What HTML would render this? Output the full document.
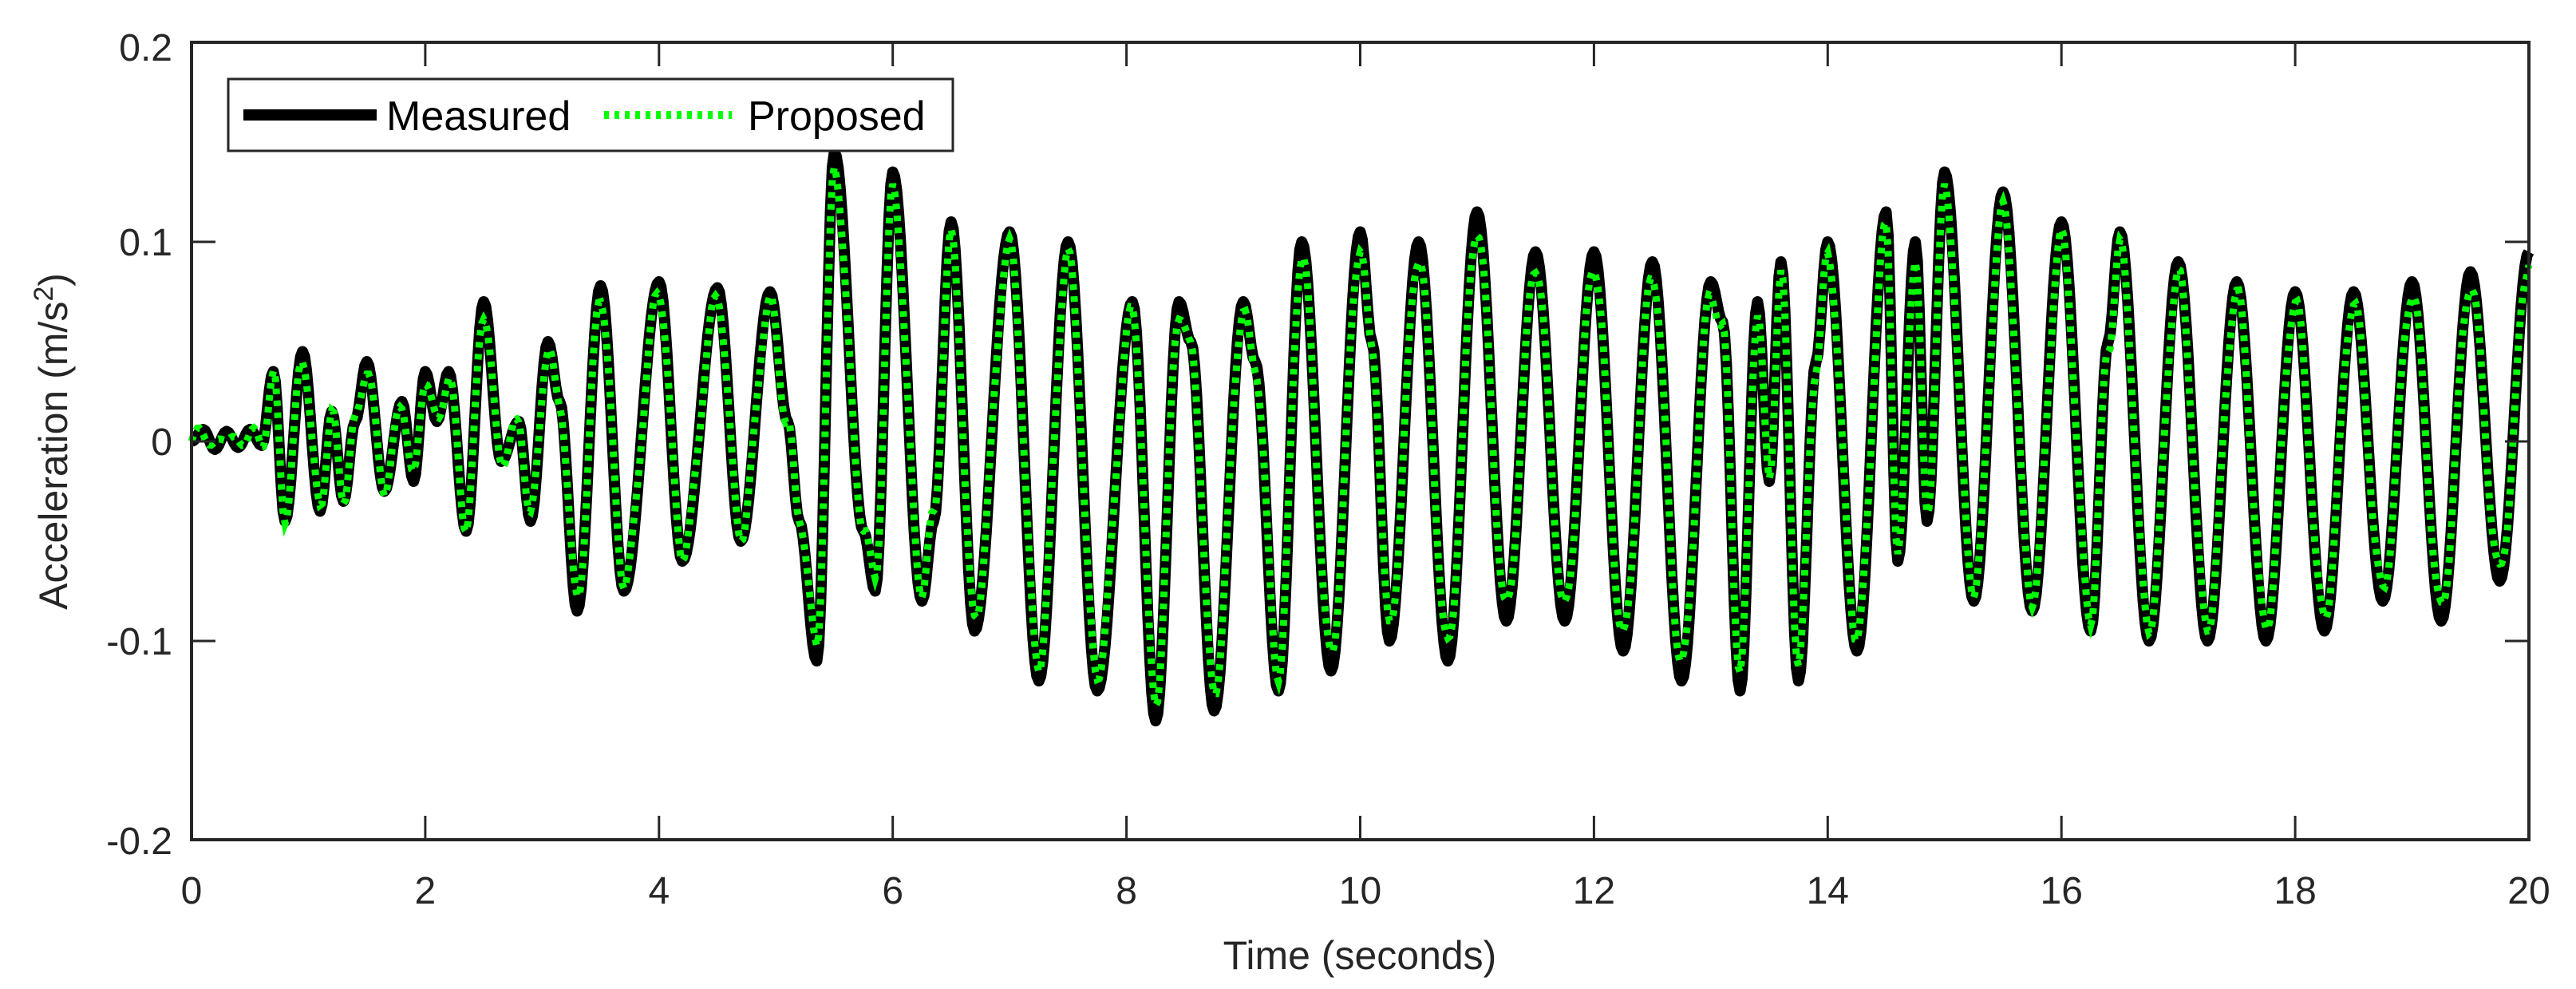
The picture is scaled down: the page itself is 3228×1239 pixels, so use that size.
<!DOCTYPE html>
<html><head><meta charset="utf-8"><style>
html,body{margin:0;padding:0;background:#fff;}
svg{display:block;}
text{font-family:"Liberation Sans",sans-serif;fill:#262626;}
</style></head><body>
<svg id="s" width="3228" height="1239" viewBox="0 0 3228 1239" xmlns="http://www.w3.org/2000/svg">
<rect width="3228" height="1239" fill="#fff"/>
<g id="data"></g>
<rect x="240" y="53" width="2929" height="999" fill="none" stroke="#262626" stroke-width="4"/>
<g stroke="#262626" stroke-width="3">
<line x1="240" y1="303" x2="270" y2="303"/><line x1="240" y1="553" x2="270" y2="553"/><line x1="240" y1="803" x2="270" y2="803"/>
<line x1="3169" y1="303" x2="3139" y2="303"/><line x1="3169" y1="553" x2="3139" y2="553"/><line x1="3169" y1="803" x2="3139" y2="803"/>
</g>
<g id="xt" stroke="#262626" stroke-width="3"></g>
<g font-size="48" text-anchor="end">
<text x="216" y="76">0.2</text><text x="216" y="320">0.1</text><text x="216" y="570">0</text><text x="216" y="820">-0.1</text><text x="216" y="1070">-0.2</text>
</g>
<g id="xl" font-size="48" text-anchor="middle"></g>
<text x="1704" y="1214" font-size="50" text-anchor="middle">Time (seconds)</text>
<text transform="translate(84,553) rotate(-90)" font-size="50" text-anchor="middle">Acceleration (m/s<tspan dy="-18" font-size="34">2</tspan><tspan dy="18">)</tspan></text>
<rect x="286" y="99" width="908" height="90" fill="#fff" stroke="#262626" stroke-width="3"/>
<line x1="305" y1="144" x2="472" y2="144" stroke="#000" stroke-width="14"/>
<text x="484" y="163" font-size="52" style="fill:#000">Measured</text>
<line x1="757" y1="144" x2="917" y2="144" stroke="#00ff00" stroke-width="10" stroke-dasharray="6,7"/>
<text x="937" y="163" font-size="52" style="fill:#000">Proposed</text>
</svg>
<script>
var X=function(t){return 240+t*146.45;},Y=function(v){return 553-v*2500;};
var xt=document.getElementById('xt'),xl=document.getElementById('xl'),h='',l='';
for(var i=0;i<=20;i+=2){var x=X(i);if(i>0&&i<20){h+='<line x1="'+x+'" y1="1052" x2="'+x+'" y2="1022"/><line x1="'+x+'" y1="53" x2="'+x+'" y2="83"/>';}l+='<text x="'+x+'" y="1132">'+i+'</text>';}
xt.innerHTML=h;xl.innerHTML=l;
var E=[[0,0],[0.1,0.006],[0.2,-0.004],[0.3,0.005],[0.4,-0.003],[0.5,0.006],[0.6,-0.002],[0.7,0.035],[0.8,-0.04],[0.95,0.045],[1.1,-0.035],[1.2,0.015],[1.3,-0.03],[1.4,0.01],[1.5,0.04],[1.65,-0.025],[1.8,0.02],[1.9,-0.02],[2.0,0.035],[2.1,0.01],[2.2,0.035],[2.35,-0.045],[2.5,0.07],[2.65,-0.01],[2.8,0.01],[2.9,-0.04],[3.05,0.05],[3.15,0.02],[3.3,-0.085],[3.5,0.078],[3.7,-0.075],[4.0,0.08],[4.2,-0.06],[4.5,0.077],[4.7,-0.05],[4.95,0.075],[5.1,0.01],[5.2,-0.04],[5.35,-0.11],[5.5,0.145],[5.75,-0.045],[5.85,-0.075],[6.0,0.135],[6.25,-0.08],[6.35,-0.04],[6.5,0.11],[6.7,-0.095],[7.0,0.105],[7.25,-0.12],[7.5,0.1],[7.75,-0.125],[8.05,0.07],[8.25,-0.14],[8.45,0.07],[8.55,0.05],[8.75,-0.135],[9.0,0.07],[9.1,0.04],[9.3,-0.125],[9.5,0.1],[9.75,-0.115],[10.0,0.105],[10.1,0.05],[10.25,-0.1],[10.5,0.1],[10.75,-0.11],[11.0,0.115],[11.25,-0.09],[11.5,0.095],[11.75,-0.09],[12.0,0.095],[12.25,-0.105],[12.5,0.09],[12.75,-0.12],[13.0,0.08],[13.1,0.06],[13.25,-0.125],[13.4,0.07],[13.5,-0.02],[13.6,0.09],[13.75,-0.12],[13.9,0.04],[14.0,0.1],[14.25,-0.105],[14.5,0.115],[14.6,-0.06],[14.75,0.1],[14.85,-0.04],[15.0,0.135],[15.25,-0.08],[15.5,0.125],[15.75,-0.085],[16.0,0.11],[16.25,-0.095],[16.4,0.05],[16.5,0.105],[16.75,-0.1],[17.0,0.09],[17.25,-0.1],[17.5,0.08],[17.75,-0.1],[18.0,0.075],[18.25,-0.095],[18.5,0.075],[18.75,-0.08],[19.0,0.08],[19.25,-0.09],[19.5,0.085],[19.75,-0.07],[20.0,0.095]];
function path(sc,jit){var d='';for(var k=0;k<E.length-1;k++){var a=E[k],b=E[k+1];var n=Math.max(4,Math.round((b[0]-a[0])*60));for(var j=0;j<n;j++){var u=j/n,t=a[0]+(b[0]-a[0])*u,v=a[1]+(b[1]-a[1])*(1-Math.cos(Math.PI*u))/2;v*=sc;v+=jit*Math.sin(t*37);d+=(d?'L':'M')+X(t).toFixed(1)+' '+Y(v).toFixed(1);}}var z=E[E.length-1];d+='L'+X(z[0])+' '+Y(z[1]*sc);return d;}
document.getElementById('data').innerHTML='<path d="'+path(1,0)+'" fill="none" stroke="#000" stroke-width="14" stroke-linejoin="round"/><path d="'+path(0.93,0.004)+'" fill="none" stroke="#00ff00" stroke-width="9" stroke-dasharray="7,8"/>';
</script>
</body></html>
